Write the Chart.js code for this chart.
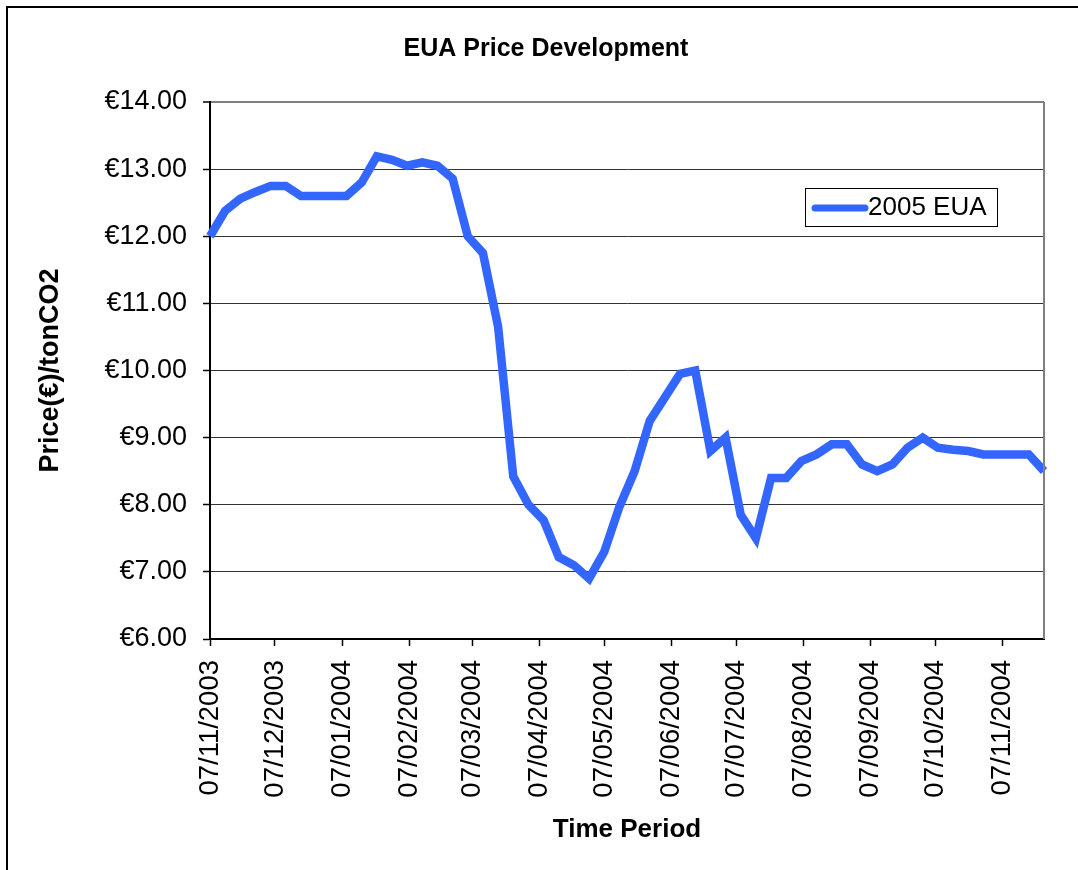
<!DOCTYPE html>
<html>
<head>
<meta charset="utf-8">
<script src="https://cdn.jsdelivr.net/npm/chart.js@4"></script>
<style>
  html, body { margin: 0; padding: 0; background: #fff; }
  #wrap { width: 1078px; height: 870px; position: relative; }
</style>
</head>
<body>
<div id="wrap"><canvas id="euaChart" width="1078" height="870"></canvas></div>
<script>
// weekly closing prices from 07/11/2003, one value per week
var weekStep = 7;
var prices2005 = [
    12.00, 12.38, 12.56, 12.66, 12.75, 12.75, 12.60, 12.60, 12.60, 12.60,
    12.80, 13.19, 13.14, 13.05, 13.10, 13.05, 12.86, 12.00, 11.75, 10.65,
    8.42, 8.00, 7.77, 7.22, 7.10, 6.90, 7.30, 7.97, 8.50, 9.25,
    9.60, 9.95, 10.00, 8.80, 9.00, 7.85, 7.50, 8.40, 8.40, 8.65,
    8.75, 8.90, 8.90, 8.60, 8.50, 8.60, 8.85, 9.00, 8.85, 8.82,
    8.80, 8.75, 8.75, 8.75, 8.75, 8.50
];
// month ticks, in days after 07/11/2003
var monthTickDays = [0, 30, 61, 92, 121, 152, 182, 213, 243, 274, 305, 335, 366];
var monthTickLabels = ['07/11/2003', '07/12/2003', '07/01/2004', '07/02/2004', '07/03/2004',
    '07/04/2004', '07/05/2004', '07/06/2004', '07/07/2004', '07/08/2004',
    '07/09/2004', '07/10/2004', '07/11/2004'];
var seriesName = '2005 EUA';
var lineColor = '#3366ff';

var points = prices2005.map(function (v, i) { return { x: i * weekStep, y: v }; });
var lastDay = (prices2005.length - 1) * weekStep;

var fontFamily = "Arial, 'Liberation Sans', Helvetica, sans-serif";
Chart.defaults.font.family = fontFamily;
Chart.defaults.color = '#000';

// frame round the whole picture, right border of the plot, and the boxed legend
var framePlugin = {
    id: 'frame',
    beforeDraw: function (chart) {
        var ctx = chart.ctx;
        ctx.save();
        ctx.fillStyle = '#fff';
        ctx.fillRect(0, 0, chart.width, chart.height);
        ctx.strokeStyle = '#000';
        ctx.lineWidth = 2;
        ctx.beginPath();
        ctx.moveTo(7, chart.height);
        ctx.lineTo(7, 7);
        ctx.lineTo(chart.width, 7);
        ctx.stroke();
        ctx.restore();
    },
    afterDatasetsDraw: function (chart) {
        var ctx = chart.ctx, a = chart.chartArea;
        ctx.save();
        ctx.strokeStyle = '#808080';
        ctx.lineWidth = 2;
        ctx.beginPath();
        ctx.moveTo(a.right, a.top);
        ctx.lineTo(a.right, a.bottom);
        ctx.stroke();

        // legend box
        var ds = chart.data.datasets[0];
        var bx = 805, by = 188, bw = 192, bh = 38;
        ctx.fillStyle = '#fff';
        ctx.fillRect(bx, by, bw, bh);
        ctx.strokeStyle = '#000';
        ctx.lineWidth = 1;
        ctx.strokeRect(bx + 0.5, by + 0.5, bw, bh);
        ctx.strokeStyle = ds.borderColor;
        ctx.lineWidth = 7;
        ctx.lineCap = 'round';
        ctx.beginPath();
        ctx.moveTo(815, by + bh / 2 + 1);
        ctx.lineTo(865, by + bh / 2 + 1);
        ctx.stroke();
        ctx.fillStyle = '#000';
        ctx.font = '26px ' + fontFamily;
        ctx.textBaseline = 'middle';
        ctx.fillText(ds.label, 868, by + bh / 2 + 1);
        ctx.restore();
    }
};

var ctx = document.getElementById('euaChart').getContext('2d');
new Chart(ctx, {
    type: 'line',
    data: {
        datasets: [{
            label: seriesName,
            data: points,
            borderColor: lineColor,
            backgroundColor: lineColor,
            borderWidth: 8.5,
            borderJoinStyle: 'miter',
            pointRadius: 0,
            tension: 0,
            clip: false
        }]
    },
    options: {
        responsive: false,
        animation: false,
        layout: { padding: { left: 14, right: 0, top: 0, bottom: 0 } },
        plugins: {
            legend: { display: false },
            tooltip: { enabled: false },
            title: {
                display: true,
                text: 'EUA Price Development',
                font: { size: 25, weight: 'bold' },
                padding: { top: 34, bottom: 38 }
            }
        },
        scales: {
            x: {
                type: 'linear',
                min: 0,
                max: lastDay,
                afterBuildTicks: function (scale) {
                    scale.ticks = monthTickDays.map(function (d) { return { value: d }; });
                },
                afterFit: function (scale) { scale.height = 231; },
                ticks: {
                    autoSkip: false,
                    maxRotation: 90,
                    minRotation: 90,
                    padding: 14,
                    font: { size: 27.5 },
                    callback: function (value) {
                        var i = monthTickDays.indexOf(value);
                        return i >= 0 ? monthTickLabels[i] : '';
                    }
                },
                grid: {
                    drawOnChartArea: false,
                    drawTicks: true,
                    tickLength: 7,
                    tickColor: '#000',
                    tickWidth: 1.5
                },
                border: { color: '#000', width: 2 },
                title: {
                    display: true,
                    text: 'Time Period',
                    font: { size: 26, weight: 'bold' },
                    padding: { top: 0, bottom: 25 }
                }
            },
            y: {
                min: 6,
                max: 14,
                afterFit: function (scale) { scale.width = 196; },
                ticks: {
                    stepSize: 1,
                    padding: 16,
                    font: { size: 27 },
                    callback: function (value) { return '€' + value.toFixed(2); }
                },
                grid: {
                    color: function (c) { return c.tick && c.tick.value === 14 ? '#808080' : '#333'; },
                    lineWidth: function (c) { return c.tick && c.tick.value === 14 ? 2 : 1; },
                    tickLength: 7,
                    tickColor: '#000',
                    tickWidth: 1.5
                },
                border: { color: '#000', width: 2 },
                title: {
                    display: true,
                    text: 'Price(€)/tonCO2',
                    font: { size: 27, weight: 'bold' },
                    padding: { top: 20, bottom: 0 }
                }
            },
            // empty right-hand axis, only keeps the plot's right margin
            yRight: {
                position: 'right',
                display: true,
                afterFit: function (scale) { scale.width = 34; },
                ticks: { display: false },
                grid: { drawOnChartArea: false, drawTicks: false },
                border: { display: false }
            }
        }
    },
    plugins: [framePlugin]
});
</script>
</body>
</html>
